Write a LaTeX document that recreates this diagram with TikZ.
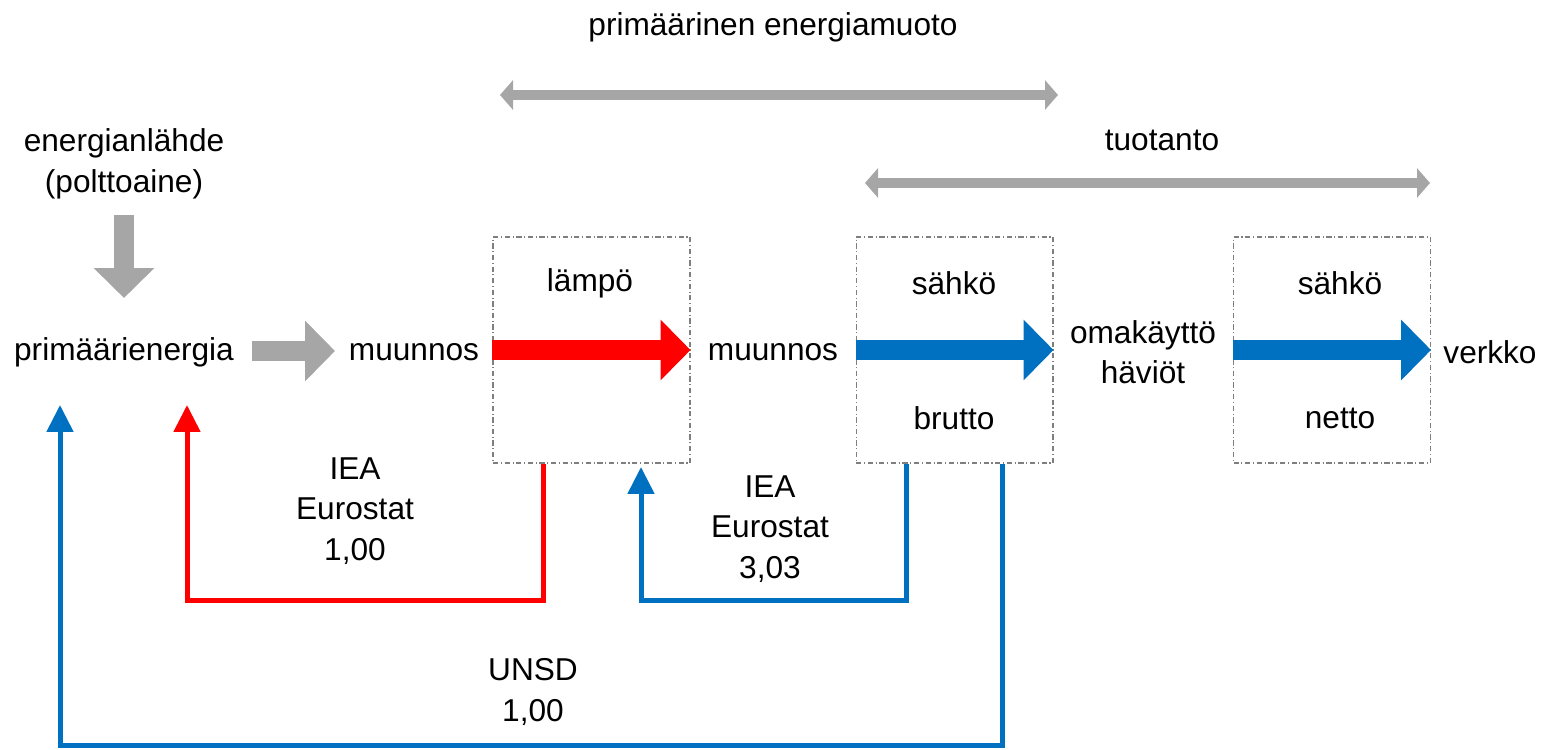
\documentclass[tikz,border=0pt]{standalone}
\usepackage{fontspec}
\setmainfont{Liberation Sans}
\usetikzlibrary{arrows.meta}
\definecolor{flowgray}{HTML}{A6A6A6}
\definecolor{flowred}{HTML}{FF0000}
\definecolor{flowblue}{HTML}{0070C0}
\definecolor{boxgray}{HTML}{7F7F7F}

\begin{document}
\begin{tikzpicture}[x=0.02cm,y=-0.02cm,
    every node/.style={font=\fontsize{18}{23}\selectfont, align=center},
    fatarrow/.style={line width=0.4cm, -{Triangle[length=0.6cm,width=1.18cm]}},
    spanarrow/.style={flowgray, line width=0.2cm, {Triangle[length=0.26cm,width=0.58cm]}-{Triangle[length=0.26cm,width=0.58cm]}},
    factor/.style={line width=0.1cm, -{Triangle[length=0.54cm,width=0.52cm]}},
    stagebox/.style={draw=boxgray, line width=0.6pt, dash pattern=on 3pt off 1.5pt on 0.6pt off 1.5pt,
        minimum width=3.94cm, minimum height=4.52cm, inner sep=0pt}]
    \useasboundingbox (0,0) rectangle (1542,750);
    % stages
    \node[stagebox] (heat) at (591.5,350) {};
    \node[stagebox] (gross) at (954.5,350) {};
    \node[stagebox] (net) at (1332,350) {};
    % texts
    \node (form) at (773,27) {primäärinen energiamuoto};
    \node (prod) at (1162,140) {tuotanto};
    \node (src) at (124,164) {energianlähde\\(polttoaine)};
    \node (prim) at (124,352) {primäärienergia};
    \node (conv1) at (414,352) {muunnos};
    \node (conv2) at (773,352) {muunnos};
    \node (own) at (1143,352) {omakäyttö\\häviöt};
    \node (grid) at (1490,352) {verkko};
    \node (heatlbl) at (590,283) {lämpö};
    \node (elgross) at (954,283) {sähkö};
    \node (brutto) at (954,418) {brutto};
    \node (elnet) at (1340,283) {sähkö};
    \node (netto) at (1340,418) {netto};
    \node (iea1) at (355,511) {IEA\\Eurostat\\1,00};
    \node (iea2) at (770,529) {IEA\\Eurostat\\3,03};
    \node (unsd) at (533,692) {UNSD\\1,00};
    % ranges
    \coordinate (formL) at (500,95);
    \coordinate (formR) at (1058,95);
    \coordinate (prodL) at (865,183);
    \coordinate (prodR) at (1430,183);
    \draw[spanarrow] (formL) -- (formR);
    \draw[spanarrow] (prodL) -- (prodR);
    % main flow
    \draw[fatarrow, flowgray] (124,215) -- (124,298);
    \draw[fatarrow, flowgray] (252,351) -- (335,351);
    \draw[fatarrow, flowred] (heat.west) -- (heat.east);
    \draw[fatarrow, flowblue] (gross.west) -- (gross.east);
    \draw[fatarrow, flowblue] (net.west) -- (net.east);
    % factors
    \coordinate (inRed) at (187,405);
    \coordinate (inBlue) at (641,467);
    \coordinate (inUnsd) at (60,405);
    \draw[factor, flowred] ([xshift=-0.97cm]heat.south) -- ++(0,137) -| (inRed);
    \draw[factor, flowblue] ([xshift=-0.97cm]gross.south) -- ++(0,137) -| (inBlue);
    \draw[factor, flowblue] ([xshift=0.95cm]gross.south) -- ++(0,282) -| (inUnsd);
\end{tikzpicture}
\end{document}
